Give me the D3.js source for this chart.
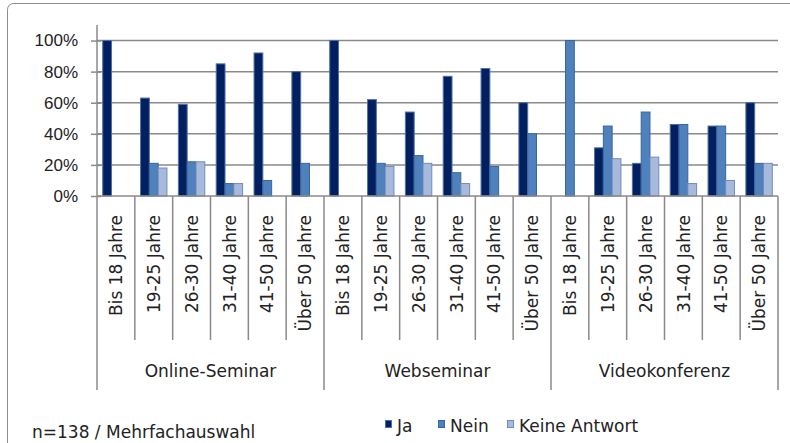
<!DOCTYPE html>
<html>
<head>
<meta charset="utf-8">
<script src="https://cdn.jsdelivr.net/npm/d3@7"></script>
<style>
  body { margin: 0; background: #fff; }
  svg { display: block; font-family: "DejaVu Sans", Verdana, sans-serif; }
  .tick text { font-size: 17px; fill: #222; }
  .label { font-size: 17px; fill: #222; }
</style>
</head>
<body>
<div class="wrapper"></div>
<script>
const groups = ["Online-Seminar", "Webseminar", "Videokonferenz"]
const ages = ["Bis 18 Jahre", "19-25 Jahre", "26-30 Jahre", "31-40 Jahre", "41-50 Jahre", "Über 50 Jahre"]
const seriesNames = ["Ja", "Nein", "Keine Antwort"]

// values in %, 6 age groups per format
const ja    = [100, 63, 59, 85, 92, 80,   100, 62, 54, 77, 82, 60,   0, 31, 21, 46, 45, 60]
const nein  = [0, 21, 22, 8, 10, 21,      0, 21, 26, 15, 19, 40,     100, 45, 54, 46, 45, 21]
const keine = [0, 18, 22, 8, 0, 0,        0, 19, 21, 8, 0, 0,        0, 24, 25, 8, 10, 21]

const yTicks = [0, 20, 40, 60, 80, 100]

function drawChart() {
    const seriesValues = [ja, nein, keine]
    const fills = ["#022060", "#4F81BD", "#A8BADB"]
    const strokes = ["#4F6FA8", "#3A659C", "#6E8CC0"]
    const gridColor = "#8a8a8a"

    const dimensions = {
        width: 790,
        height: 443,
        plotLeft: 97,
        plotRight: 778,
        plotTop: 25,
        zeroY: 196,
        catBottom: 340,
        groupBottom: 390,
    }

    const cats = []
    groups.forEach((g, gi) => ages.forEach((a, ai) => cats.push({group: g, age: a, i: gi * ages.length + ai})))

    const svg = d3.select(".wrapper")
        .append("svg")
        .attr("width", dimensions.width)
        .attr("height", dimensions.height)

    // outer chart frame
    svg.append("rect")
        .attr("x", 7.5)
        .attr("y", 3.5)
        .attr("width", 820)
        .attr("height", 480)
        .attr("rx", 6)
        .attr("fill", "none")
        .attr("stroke", "#8c8c8c")

    const x0 = d3.scaleBand()
        .domain(cats.map(d => d.i))
        .range([dimensions.plotLeft, dimensions.plotRight])

    const x1 = d3.scaleBand()
        .domain(seriesNames)
        .range([0, x0.bandwidth()])
        .paddingOuter(0.65)

    const y = d3.scaleLinear()
        .domain([0, 110])
        .range([dimensions.zeroY, dimensions.plotTop])

    // gridlines
    svg.append("g")
        .selectAll("line")
        .data(yTicks.filter(d => d > 0))
        .enter().append("line")
        .attr("x1", dimensions.plotLeft)
        .attr("x2", dimensions.plotRight)
        .attr("y1", d => y(d))
        .attr("y2", d => y(d))
        .attr("stroke", gridColor)
        .attr("stroke-width", 1.5)

    // bars
    const catGroups = svg.append("g")
        .selectAll("g")
        .data(cats)
        .enter().append("g")
        .attr("transform", d => `translate(${x0(d.i)},0)`)

    catGroups.selectAll("rect")
        .data(d => seriesNames.map((s, si) => ({s, si, v: seriesValues[si][d.i]})).filter(b => b.v > 0))
        .enter().append("rect")
        .attr("x", b => x1(b.s))
        .attr("width", x1.bandwidth())
        .attr("y", b => y(b.v))
        .attr("height", b => y(0) - y(b.v))
        .attr("fill", b => fills[b.si])
        .attr("stroke", b => strokes[b.si])
        .attr("stroke-width", 1)

    // y axis
    const yAxis = svg.append("g")
        .attr("transform", `translate(${dimensions.plotLeft},0)`)
        .call(d3.axisLeft(y)
            .tickValues(yTicks)
            .tickFormat(d => d + "%")
            .tickSize(6)
            .tickPadding(13))
    yAxis.select(".domain").remove()
    yAxis.selectAll(".tick line")
        .attr("x1", 4)
        .attr("stroke", gridColor)
        .attr("stroke-width", 1.5)
    yAxis.selectAll(".tick text")
        .attr("font-family", null)
        .attr("font-size", null)

    // axis lines
    svg.append("line")
        .attr("x1", dimensions.plotLeft).attr("x2", dimensions.plotLeft)
        .attr("y1", dimensions.plotTop).attr("y2", dimensions.groupBottom)
        .attr("stroke", gridColor).attr("stroke-width", 1.5)
    svg.append("line")
        .attr("x1", dimensions.plotLeft).attr("x2", dimensions.plotRight)
        .attr("y1", dimensions.zeroY).attr("y2", dimensions.zeroY)
        .attr("stroke", gridColor).attr("stroke-width", 1.5)

    // category separators
    svg.append("g")
        .selectAll("line")
        .data(cats.map(d => d.i + 1))
        .enter().append("line")
        .attr("x1", i => i < cats.length ? x0(i) : dimensions.plotRight)
        .attr("x2", i => i < cats.length ? x0(i) : dimensions.plotRight)
        .attr("y1", dimensions.zeroY)
        .attr("y2", i => i % ages.length === 0 ? dimensions.groupBottom : dimensions.catBottom)
        .attr("stroke", gridColor)
        .attr("stroke-width", 1.5)

    // age labels
    svg.append("g")
        .selectAll("text")
        .data(cats)
        .enter().append("text")
        .attr("class", "label")
        .attr("transform", d => `translate(${x0(d.i) + x0.bandwidth() / 2},215) rotate(-90)`)
        .attr("dy", "0.36em")
        .attr("text-anchor", "end")
        .text(d => d.age)

    // group labels
    svg.append("g")
        .selectAll("text")
        .data(groups)
        .enter().append("text")
        .attr("class", "label")
        .attr("x", (g, gi) => (x0(gi * ages.length) + x0(gi * ages.length + ages.length - 1) + x0.bandwidth()) / 2)
        .attr("y", 377)
        .attr("text-anchor", "middle")
        .text(g => g)

    // note
    svg.append("text")
        .attr("class", "label")
        .attr("x", 32)
        .attr("y", 438)
        .text("n=138 / Mehrfachauswahl")

    // legend
    const legendX = [385, 438, 507]
    const legend = svg.append("g")
        .selectAll("g")
        .data(seriesNames)
        .enter().append("g")
        .attr("transform", (d, i) => `translate(${legendX[i]},0)`)
    legend.append("rect")
        .attr("x", 0.5)
        .attr("y", 420.5)
        .attr("width", 6)
        .attr("height", 7)
        .attr("fill", (d, i) => fills[i])
        .attr("stroke", (d, i) => strokes[i])
    legend.append("text")
        .attr("class", "label")
        .attr("x", 12)
        .attr("y", 432)
        .text(d => d)
}

drawChart()
</script>
</body>
</html>
